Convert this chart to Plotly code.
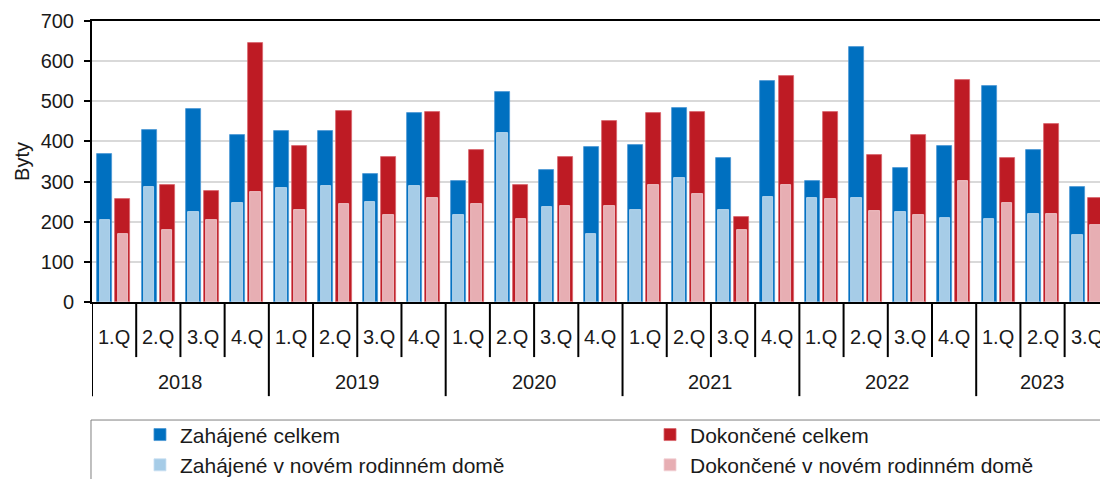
import plotly.graph_objects as go

years = ["2018", "2019", "2020", "2021", "2022", "2023"]
quarters = ["1.Q", "2.Q", "3.Q", "4.Q"]
year_quarter_counts = [4, 4, 4, 4, 4, 3]

zahajene_celkem = [368, 428, 481, 415, 425, 425, 319, 471, 302, 524, 329, 385,
                   391, 484, 358, 550, 302, 636, 335, 388, 537, 378, 286]
dokoncene_celkem = [256, 292, 276, 646, 388, 477, 362, 474, 378, 292, 362, 451,
                    471, 474, 213, 564, 474, 365, 415, 554, 358, 444, 259]
zahajene_rd = [204, 286, 223, 247, 283, 290, 250, 290, 217, 422, 236, 170,
               229, 309, 229, 262, 259, 259, 223, 209, 206, 219, 166]
dokoncene_rd = [170, 180, 204, 273, 230, 243, 217, 260, 243, 207, 239, 239,
                292, 269, 180, 292, 256, 226, 216, 302, 246, 219, 193]

cats = []
q_labels = []
for y, n in zip(years, year_quarter_counts):
    for q in quarters[:n]:
        cats.append(y + " " + q)
        q_labels.append(q)

FONT = "Liberation Sans, Arial, sans-serif"
BLUE = "#0070C0"
LBLUE = "#A6CCE7"
RED = "#BE1B24"
PINK = "#E7AEB3"

fig = go.Figure()
fig.add_trace(go.Bar(x=cats, y=zahajene_celkem, name="Zahájené celkem",
                     marker=dict(color=BLUE, line=dict(color="#4A97D4", width=0.8)),
                     offset=-0.38, width=0.34, legend="legend", legendgroup="a"))
fig.add_trace(go.Bar(x=cats, y=zahajene_rd, name="Zahájené v novém rodinném domě",
                     marker=dict(color=LBLUE, line=dict(color="#C9E0F2", width=0.8)),
                     offset=-0.33, width=0.24, legend="legend", legendgroup="b"))
fig.add_trace(go.Bar(x=cats, y=dokoncene_celkem, name="Dokončené celkem",
                     marker=dict(color=RED, line=dict(color="#D9646B", width=0.8)),
                     offset=0.03, width=0.34, legend="legend2", legendgroup="c"))
fig.add_trace(go.Bar(x=cats, y=dokoncene_rd, name="Dokončené v novém rodinném domě",
                     marker=dict(color=PINK, line=dict(color="#F3D2D5", width=0.8)),
                     offset=0.08, width=0.24, legend="legend2", legendgroup="d"))

shapes = []
annotations = []
n = len(cats)
boundaries = [0]
for c in year_quarter_counts:
    boundaries.append(boundaries[-1] + c)
for i in range(n + 1):
    is_year = i in boundaries
    shapes.append(dict(type="line", xref="x", yref="paper",
                       x0=i - 0.5, x1=i - 0.5, y0=0, y1=-0.335 if is_year else -0.196,
                       line=dict(color="black", width=2)))
for i, q in enumerate(q_labels):
    annotations.append(dict(x=i, y=-0.125, xref="x", yref="paper", text=q,
                            showarrow=False, font=dict(size=20, family=FONT, color="#1a1a1a"),
                            xanchor="center", yanchor="middle"))
for k, (y, c) in enumerate(zip(years, year_quarter_counts)):
    annotations.append(dict(x=boundaries[k] + (c - 1) / 2, y=-0.283, xref="x", yref="paper",
                            text=y, showarrow=False,
                            font=dict(size=20, family=FONT, color="#1a1a1a"),
                            xanchor="center", yanchor="middle"))

# legend frame
shapes.append(dict(type="rect", xref="paper", yref="paper", x0=-0.001, x1=1.05,
                   y0=-0.75, y1=-0.42, line=dict(color="#808080", width=1)))

fig.update_layout(
    width=1100, height=479,
    margin=dict(l=92, r=0, t=21, b=177, autoexpand=False),
    paper_bgcolor="white", plot_bgcolor="white",
    barmode="overlay",
    font=dict(family=FONT, size=20, color="#1a1a1a"),
    xaxis=dict(type="category", range=[-0.5, 22.3], showticklabels=False,
               showline=True, mirror=True, linecolor="black", linewidth=2,
               ticks="", showgrid=False, zeroline=False, fixedrange=True,
               automargin=False),
    yaxis=dict(range=[0, 700], dtick=100, showline=True, linecolor="black", linewidth=2,
               ticks="outside", ticklen=6, tickwidth=2, tickcolor="black",
               gridcolor="#D9D9D9", gridwidth=1.5, zeroline=False, automargin=False,
               ticklabelstandoff=6,
               tickfont=dict(size=20, family=FONT, color="#1a1a1a"),
               title=dict(text="Byty", standoff=6, font=dict(size=20, family=FONT))),
    legend=dict(x=0.0476, y=-0.400, xanchor="left", yanchor="top", orientation="v",
                font=dict(size=21, family=FONT, color="#1a1a1a"),
                bgcolor="rgba(0,0,0,0)", borderwidth=0, tracegroupgap=7,
                itemwidth=30, traceorder="normal"),
    legend2=dict(x=0.5536, y=-0.400, xanchor="left", yanchor="top", orientation="v",
                 font=dict(size=21, family=FONT, color="#1a1a1a"),
                 bgcolor="rgba(0,0,0,0)", borderwidth=0, tracegroupgap=7,
                 itemwidth=30, traceorder="normal"),
    shapes=shapes,
    annotations=annotations,
    bargap=0,
)

fig.write_html(
    "out.html",
    config={"displayModeBar": False},
    post_script=(
        "document.body.style.margin='0';"
        "document.body.style.overflow='hidden';"
        "document.documentElement.style.overflow='hidden';"
    ),
)
